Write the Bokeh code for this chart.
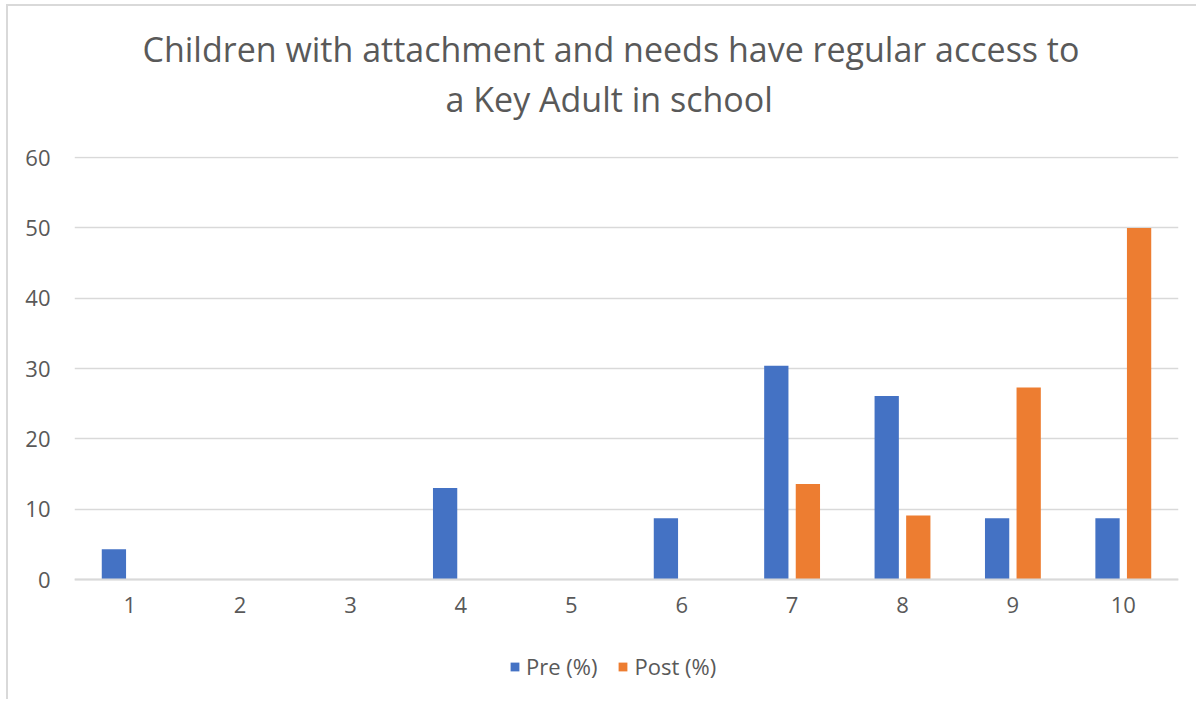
from bokeh.plotting import figure
from bokeh.models import (ColumnDataSource, FactorRange, Legend, LegendItem,
                          Title, FixedTicker, Range1d)
from bokeh.transform import dodge
from bokeh.embed import file_html
from bokeh.resources import INLINE

# Rating scale 1-10 and share of children (%) at each rating
ratings = ["1", "2", "3", "4", "5", "6", "7", "8", "9", "10"]
pre_pct = [4.3, 0, 0, 13.0, 0, 8.7, 30.4, 26.1, 8.7, 8.7]
post_pct = [0, 0, 0, 0, 0, 0, 13.6, 9.1, 27.3, 50.0]
y_ticks = [0, 10, 20, 30, 40, 50, 60]

title_lines = ["Children with attachment and needs have regular access to",
               "a Key Adult in school"]

FONT = "Open Sans"
TXT = "#595959"
GRID = "#d9d9d9"
BLUE = "#4472C4"
ORANGE = "#ED7D31"

src = ColumnDataSource(dict(rating=ratings, pre=pre_pct, post=post_pct))

# the frame runs below zero so the legend can sit inside it under the axis
p = figure(x_range=FactorRange(*ratings, range_padding=0),
           y_range=Range1d(-17.06, 60.15),
           frame_width=1104, frame_height=543,
           min_border_left=66, min_border_top=0, min_border_right=18,
           min_border_bottom=0,
           output_backend="svg", toolbar_location=None, title=None)
p.margin = (4, 0, 0, 6)
p.styles = {"border-left": f"2px solid {GRID}", "border-top": f"2px solid {GRID}"}

r_pre = p.vbar(x=dodge("rating", -0.143, range=p.x_range), top="pre", width=0.22,
               source=src, fill_color=BLUE, line_color=None)
r_post = p.vbar(x=dodge("rating", 0.143, range=p.x_range), top="post", width=0.22,
                source=src, fill_color=ORANGE, line_color=None)

p.outline_line_color = None
p.xgrid.grid_line_color = None
p.ygrid.grid_line_color = GRID
p.ygrid.grid_line_width = 1.5

p.yaxis.ticker = FixedTicker(ticks=y_ticks)
p.yaxis.axis_line_color = None
p.yaxis.major_tick_line_color = None
p.yaxis.minor_tick_line_color = None
p.yaxis.major_label_standoff = 18

p.xaxis.fixed_location = 0
p.xaxis.axis_line_color = GRID
p.xaxis.axis_line_width = 2
p.xaxis.major_tick_line_color = None
p.xaxis.minor_tick_line_color = None
p.xaxis.major_label_standoff = 11

for ax in (p.xaxis, p.yaxis):
    ax.major_label_text_font = FONT
    ax.major_label_text_font_size = "22px"
    ax.major_label_text_color = TXT

legend = Legend(items=[LegendItem(label="Pre (%)", renderers=[r_pre]),
                       LegendItem(label="Post (%)", renderers=[r_post])],
                orientation="horizontal", location=(435, 18),
                label_text_font=FONT, label_text_font_size="22px",
                label_text_color=TXT, glyph_width=11, glyph_height=11,
                label_standoff=6, spacing=20, border_line_color=None,
                background_fill_alpha=0, margin=0, padding=0)
p.add_layout(legend)

# heading stack (nearest the plot first): gap, second line, first line
p.add_layout(Title(text=" ", text_font_size="1px", standoff=31), "above")
offsets = [371, 68]
for line, off in zip(reversed(title_lines), offsets):
    p.add_layout(Title(text=line, align="left", offset=off, text_font=FONT,
                       text_font_size="34px", text_font_style="normal",
                       text_color=TXT, standoff=2), "above")
p.add_layout(Title(text=" ", text_font_size="1px", standoff=13), "above")

open("out.html", "w").write(file_html(p, INLINE))
